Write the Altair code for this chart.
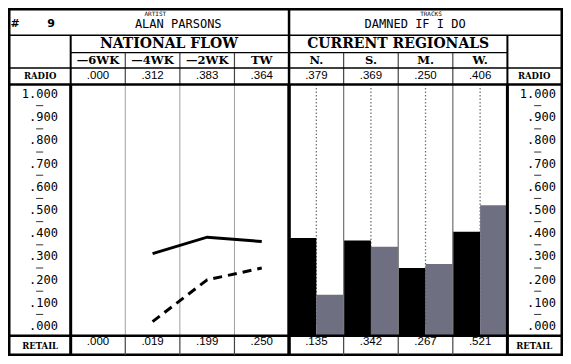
import altair as alt
import pandas as pd

# ---------------- data ----------------
rank = "9"
artist_tag = "ARTIST"
artist = "ALAN PARSONS"
track_tag = "TRACKS"
track = "DAMNED IF I DO"
section_labels = ["NATIONAL FLOW", "CURRENT REGIONALS"]
flow_labels = ["—6WK", "—4WK", "—2WK", "TW"]
flow_radio = [0.000, 0.312, 0.383, 0.364]
flow_retail = [0.000, 0.019, 0.199, 0.250]
region_labels = ["N.", "S.", "M.", "W."]
region_radio = [0.379, 0.369, 0.250, 0.406]
region_retail = [0.135, 0.342, 0.267, 0.521]
y_ticks = [1.0, 0.9, 0.8, 0.7, 0.6, 0.5, 0.4, 0.3, 0.2, 0.1, 0.0]
minor_ticks = [0.95, 0.85, 0.75, 0.65, 0.55, 0.45, 0.35, 0.25, 0.15, 0.05]
row_names = ["RADIO", "RETAIL"]

# ---------------- layout (table geometry in scale units) ----------------
W, H = 553, 346
X0, X1 = -0.13, 10.0
Y0, Y1 = -0.125, 1.3667
R1, R2, R3, R4, R5 = 1.254, 1.179, 1.1125, 1.0417, -0.0417
T_TITLE, T_TAG, T_HEAD, T_COL, T_RADIO, T_RETAIL, T_RETAIL_LBL = 1.303, 1.343, 1.2165, 1.142, 1.076, -0.071, -0.088
LEFT_LBL_X, RIGHT_LBL_X = 0.44, 9.49
LEFT_TICK_X, RIGHT_TICK_X = 0.767, 9.89
DIGIT_OFF = (0.40, 0.27)
GRAY_BAR = "#6f6f82"

xs = alt.Scale(domain=[X0, X1], nice=False, zero=False)
ys = alt.Scale(domain=[Y0, Y1], nice=False, zero=False)


def enc_xy(x="x", y="y"):
    return dict(x=alt.X(f"{x}:Q", scale=xs, axis=None),
                y=alt.Y(f"{y}:Q", scale=ys, axis=None))


def fmt(v):
    s = f"{v:.3f}"
    return s[1:] if s.startswith("0") else s


# grid: vertical segments
vseg = []
def add_v(x, ya, yb, w, c):
    vseg.append(dict(x=x, y=ya, y2=yb, w=w, c=c))

for x in (1, 9):
    add_v(x, R1, R4, 2, "black")
    add_v(x, R4, Y0, 3, "black")
add_v(5, Y1, R4, 2.5, "black")
add_v(5, R4, Y0, 3.5, "black")
for x in (2, 3, 4):
    add_v(x, R2, R4, 1.2, "#444444")
    add_v(x, R4, R5, 1, "#a0a0a0")
    add_v(x, R5, Y0, 1.2, "#444444")
for x in (6, 7, 8):
    add_v(x, R2, R4, 1.2, "#444444")
    add_v(x, R4, R5, 1.3, "#7a7a7a")
    add_v(x, R5, Y0, 1.2, "#444444")
vdf = pd.DataFrame(vseg)

hdf = pd.DataFrame([
    dict(x=X0, x2=X1, y=R1, w=1.5),
    dict(x=1, x2=9, y=R2, w=1.2),
    dict(x=X0, x2=X1, y=R3, w=1.5),
    dict(x=X0, x2=X1, y=R4, w=2.5),
    dict(x=X0, x2=X1, y=R5, w=2.5),
])

# minor tick dashes under the scale digits
mt = []
for base in (LEFT_TICK_X, RIGHT_TICK_X):
    for v in minor_ticks:
        mt.append(dict(x=base - DIGIT_OFF[0], x2=base - DIGIT_OFF[1], y=v))
mdf = pd.DataFrame(mt)

# dotted guides in regional columns
ddf = pd.DataFrame([dict(x=5 + i + 0.5, y=R4, y2=0) for i in range(4)])

# bars
bars = []
for i in range(4):
    bars.append(dict(x=5 + i, x2=5.5 + i, y=region_radio[i], y2=R5, c="black"))
    bars.append(dict(x=5.5 + i, x2=6 + i, y=region_retail[i], y2=R5, c=GRAY_BAR))
bdf = pd.DataFrame(bars)

# lines (plotted from -4WK onward)
radio_line = pd.DataFrame([dict(x=1 + i + 0.5, y=flow_radio[i]) for i in range(1, 4)])
retail_line = pd.DataFrame([dict(x=1 + i + 0.5, y=flow_retail[i]) for i in range(1, 4)])

# texts
col_labels = flow_labels + region_labels
radio_vals = flow_radio + region_radio
retail_vals = flow_retail + region_retail
col_df = pd.DataFrame([dict(x=1 + i + 0.5, y=T_COL, t=col_labels[i]) for i in range(8)])
radio_df = pd.DataFrame([dict(x=1 + i + 0.5, y=T_RADIO, t=fmt(radio_vals[i])) for i in range(8)])
retail_df = pd.DataFrame([dict(x=1 + i + 0.5, y=T_RETAIL, t=fmt(retail_vals[i])) for i in range(8)])
head_df = pd.DataFrame([dict(x=2.8, y=T_HEAD, t=section_labels[0]),
                        dict(x=7.0, y=T_HEAD, t=section_labels[1])])
rowlbl_df = pd.DataFrame([
    dict(x=LEFT_LBL_X, y=T_RADIO, t=row_names[0]),
    dict(x=RIGHT_LBL_X, y=T_RADIO, t=row_names[0]),
    dict(x=LEFT_LBL_X, y=T_RETAIL_LBL, t=row_names[1]),
    dict(x=RIGHT_LBL_X, y=T_RETAIL_LBL, t=row_names[1]),
])
tick_df = pd.DataFrame([dict(x=LEFT_TICK_X, y=v, t=fmt(v)) for v in y_ticks] +
                       [dict(x=RIGHT_TICK_X, y=v, t=fmt(v)) for v in y_ticks])
title_df = pd.DataFrame([dict(x=2.97, y=T_TITLE, t=artist), dict(x=7.31, y=T_TITLE, t=track)])
tag_df = pd.DataFrame([dict(x=2.55, y=T_TAG, t=artist_tag), dict(x=7.6, y=T_TAG, t=track_tag)])
rank_df = pd.DataFrame([dict(x=-0.02, y=T_TITLE, t="#"), dict(x=0.64, y=T_TITLE, t=rank)])

layers = [
    alt.Chart(ddf).mark_rule(color="#777777", strokeWidth=1.3, strokeDash=[1.5, 2]).encode(
        **enc_xy(), y2="y2:Q"),
    alt.Chart(bdf).mark_rect().encode(
        x=alt.X("x:Q", scale=xs, axis=None), x2="x2:Q",
        y=alt.Y("y:Q", scale=ys, axis=None), y2="y2:Q",
        color=alt.Color("c:N", scale=None)),
    alt.Chart(vdf).mark_rule().encode(
        **enc_xy(), y2="y2:Q",
        strokeWidth=alt.StrokeWidth("w:Q", scale=None),
        color=alt.Color("c:N", scale=None)),
    alt.Chart(hdf).mark_rule(color="black").encode(
        **enc_xy(), x2="x2:Q",
        strokeWidth=alt.StrokeWidth("w:Q", scale=None)),
    alt.Chart(mdf).mark_rule(color="#333333", strokeWidth=1).encode(
        **enc_xy(), x2="x2:Q"),
    alt.Chart(radio_line).mark_line(color="black", strokeWidth=3).encode(**enc_xy()),
    alt.Chart(retail_line).mark_line(color="black", strokeWidth=3, strokeDash=[9, 6]).encode(**enc_xy()),
    alt.Chart(head_df).mark_text(font="DejaVu Serif", fontWeight="bold", fontSize=14).encode(
        **enc_xy(), text="t:N"),
    alt.Chart(col_df).mark_text(font="DejaVu Serif", fontWeight="bold", fontSize=11.5).encode(
        **enc_xy(), text="t:N"),
    alt.Chart(radio_df).mark_text(font="Liberation Sans", fontSize=11.5).encode(
        **enc_xy(), text="t:N"),
    alt.Chart(retail_df).mark_text(font="Liberation Sans", fontSize=11.5).encode(
        **enc_xy(), text="t:N"),
    alt.Chart(rowlbl_df).mark_text(font="DejaVu Serif", fontWeight="bold", fontSize=8.5).encode(
        **enc_xy(), text="t:N"),
    alt.Chart(tick_df).mark_text(font="DejaVu Sans Mono", fontSize=12, align="right").encode(
        **enc_xy(), text="t:N"),
    alt.Chart(title_df).mark_text(font="DejaVu Sans Mono", fontSize=12).encode(
        **enc_xy(), text="t:N"),
    alt.Chart(tag_df).mark_text(font="DejaVu Sans Mono", fontSize=6).encode(
        **enc_xy(), text="t:N"),
    alt.Chart(rank_df).mark_text(font="DejaVu Sans", fontWeight="bold", fontSize=11).encode(
        **enc_xy(), text="t:N"),
]

chart = alt.layer(*layers).properties(
    width=W, height=H, padding=1,
    autosize=alt.AutoSizeParams(type="none"),
    background="white",
).configure_view(stroke="black", strokeWidth=3)

chart.save("out.html", embed_options={"renderer": "svg", "actions": False})
